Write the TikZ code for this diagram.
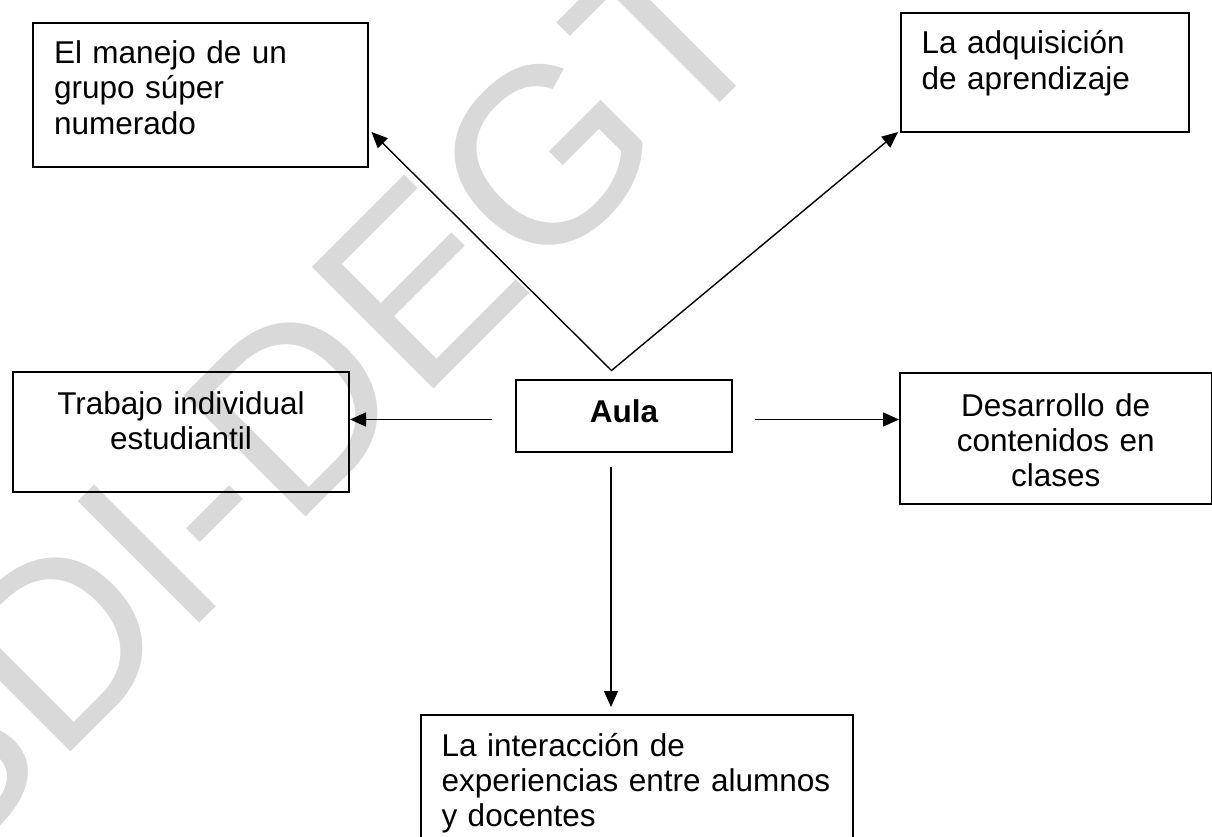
\documentclass[tikz,border=0pt]{standalone}
\usepackage{fontspec}
\setmainfont{Liberation Sans}
\usetikzlibrary{arrows.meta}
\definecolor{wmgray}{HTML}{D9D9D9}
\begin{document}
\begin{tikzpicture}[x=1pt,y=-1pt,
  box/.style={draw, line width=2pt, inner ysep=0pt, inner xsep=21pt,
    font=\fontsize{31.5}{35.3}\selectfont},
  lbox/.style={box, anchor=north west, align=left},
  cbox/.style={box, anchor=north west, align=center},
  tipstyle/.style={line width=1.4pt},
  arr/.style={tipstyle, -{Triangle[length=16pt,width=14pt]}},
  darr/.style={tipstyle, {Triangle[length=16pt,width=14pt]}-{Triangle[length=16pt,width=14pt]}},
  watermark/.style={anchor=base west, inner sep=0pt, rotate=45, text=wmgray,
    font=\fontsize{250}{250}\selectfont}]
\useasboundingbox (0,0) rectangle (1212,837);
\clip (0,0) rectangle (1212,837);
\fill[white] (0,0) rectangle (1212,837);
% watermark
\node[watermark] (wm) at (-62,885) {SDI-DEGT};
% boxes
\node[lbox, text width=293pt, text height=40pt, text depth=103.5pt] (m1) at (32,22.5)
  {El manejo de un\\grupo súper\\numerado};
\node[lbox, text width=246.5pt, text height=41pt, text depth=78.5pt] (m2) at (899.5,12)
  {La adquisición\\de aprendizaje};
\node[cbox, text width=294pt, text height=42pt, text depth=78pt] (m3) at (12,371)
  {Trabajo individual\\estudiantil};
\node[cbox, text width=174pt, text height=42pt, text depth=30pt, font=\fontsize{31.5}{35.3}\selectfont\bfseries] (aula) at (515,379)
  {Aula};
\node[cbox, text width=269.5pt, text height=43pt, text depth=88pt] (m5) at (899,372)
  {Desarrollo de\\contenidos en\\clases};
\node[lbox, text width=390.5pt, text height=41pt, text depth=125pt] (m6) at (419.5,714)
  {La interacción de\\experiencias entre alumnos\\y docentes};
% connector points
\coordinate (apex) at (611.5,370.5);
\coordinate (tip1) at (371.5,132);
\coordinate (tip2) at (898,132);
\coordinate (sL) at (492,419.5);
\coordinate (sR) at (755,419.5);
\coordinate (sD) at (611,467);
\coordinate (tipD) at (611,707);
% connectors
\draw[darr] (tip1) -- (apex) -- (tip2);
\draw[arr] (sL) -- (m3.east |- sL);
\draw[arr] (sR) -- (m5.west |- sR);
\draw[arr] (sD) -- (tipD);
\end{tikzpicture}
\end{document}
